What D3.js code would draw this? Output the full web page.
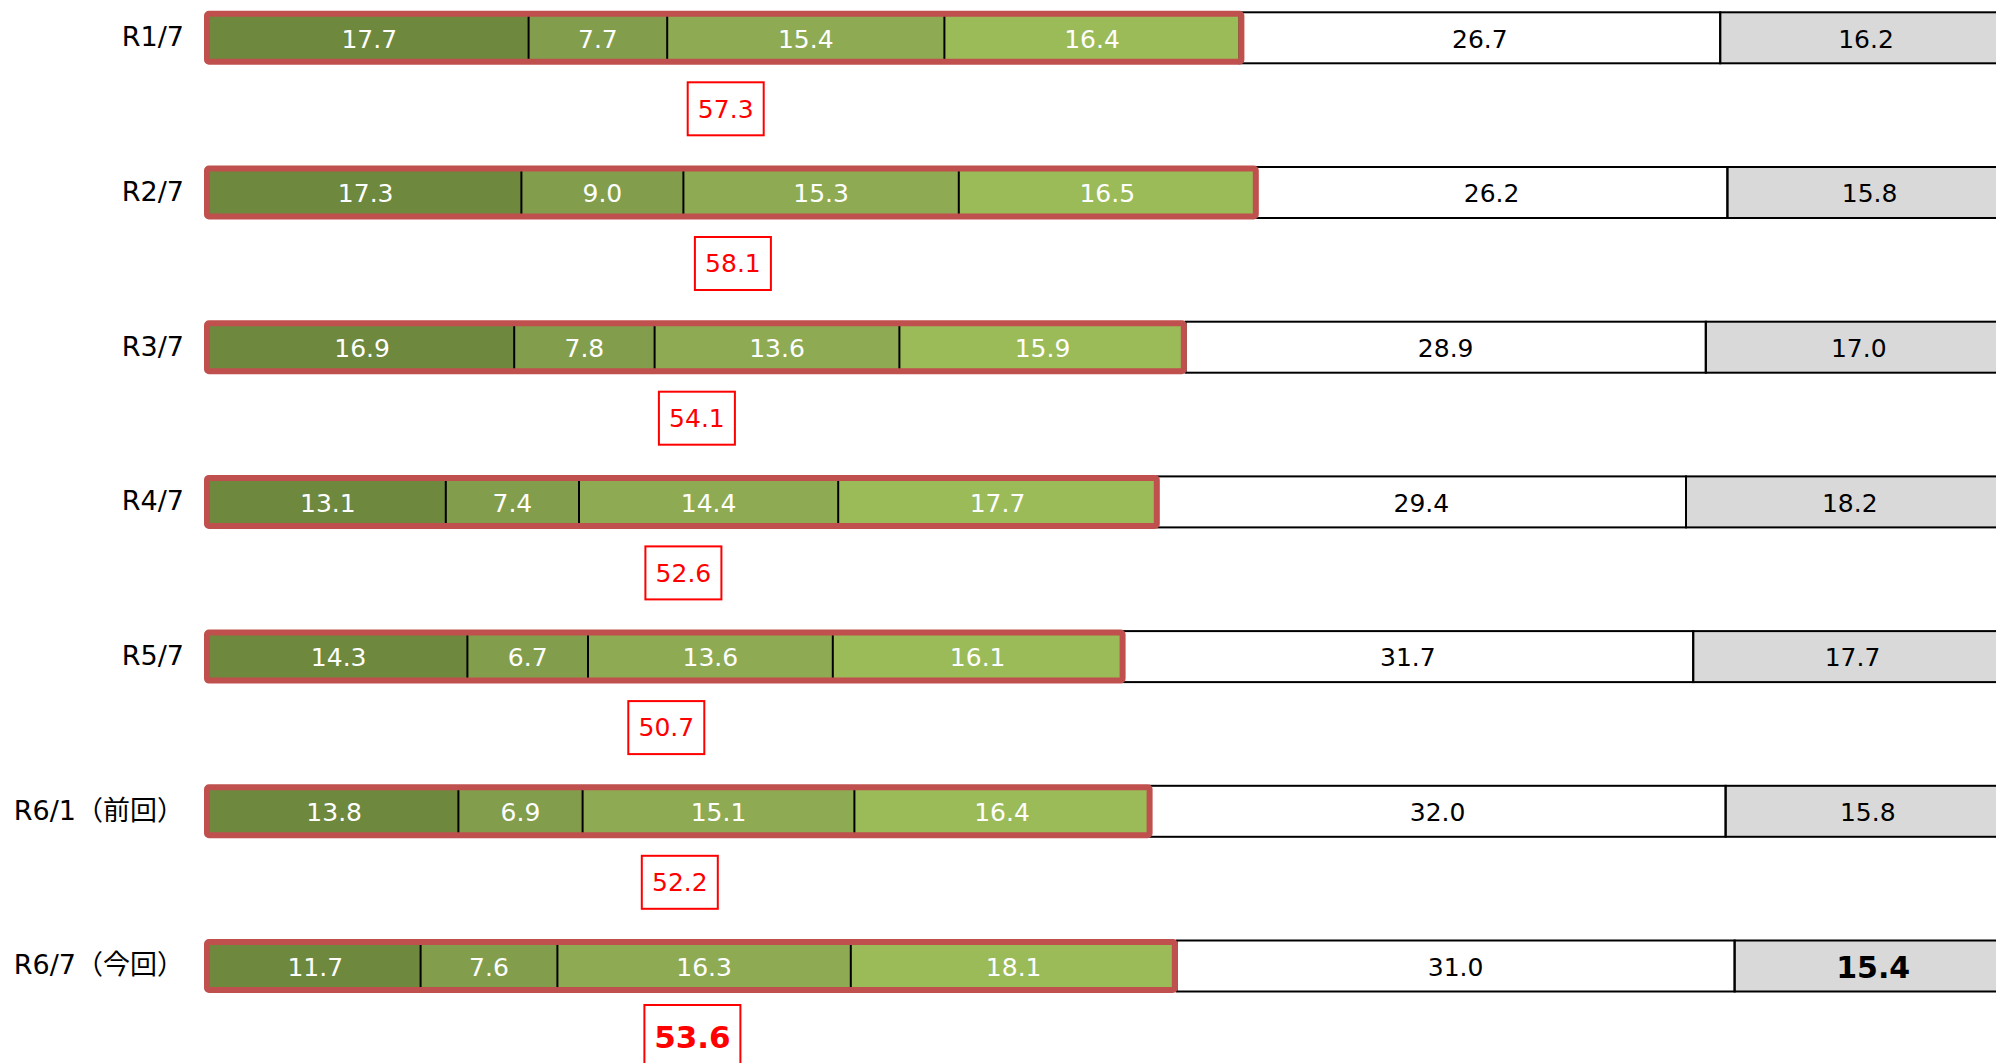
<!DOCTYPE html>
<html lang="ja">
<head>
<meta charset="utf-8">
<script src="https://cdn.jsdelivr.net/npm/d3@7"></script>
<style>
  html, body { margin: 0; padding: 0; background: #ffffff; overflow: hidden; }
  svg { display: block; }
  text { font-family: "DejaVu Sans", "Noto Sans CJK JP", sans-serif; }
</style>
</head>
<body>
<svg id="chart" width="1996" height="1063"></svg>
<script>
// Survey periods (one row each)
const categories = ["R1/7", "R2/7", "R3/7", "R4/7", "R5/7", "R6/1（前回）", "R6/7（今回）"];

// Share of answers (%) per category, left to right
const seriesA = [17.7, 17.3, 16.9, 13.1, 14.3, 13.8, 11.7];
const seriesB = [7.7, 9.0, 7.8, 7.4, 6.7, 6.9, 7.6];
const seriesC = [15.4, 15.3, 13.6, 14.4, 13.6, 15.1, 16.3];
const seriesD = [16.4, 16.5, 15.9, 17.7, 16.1, 16.4, 18.1];
const seriesE = [26.7, 26.2, 28.9, 29.4, 31.7, 32.0, 31.0];
const seriesF = [16.2, 15.8, 17.0, 18.2, 17.7, 15.8, 15.4];

// Combined share of the four green groups
const greenTotals = [57.3, 58.1, 54.1, 52.6, 50.7, 52.2, 53.6];

const seriesList = [seriesA, seriesB, seriesC, seriesD, seriesE, seriesF];
const fills = ["#6e883e", "#829e4c", "#8eab54", "#9bbb59", "#ffffff", "#d9d9d9"];
const textFills = ["#ffffff", "#ffffff", "#ffffff", "#ffffff", "#000000", "#000000"];
const greenCount = 4;
const latest = categories.length - 1;

const svg = d3.select("#chart");

const x = d3.scaleLinear().domain([0, 100]).range([210, 2010]);
const yc = d3.scalePoint().domain(categories).range([37.8, 966]);
const barH = 51;

// Stack the six series per row
const rows = categories.map((cat, i) => {
  let acc = 0;
  const segs = seriesList.map((s, k) => {
    const seg = { k, v: s[i], x0: acc, x1: acc + s[i] };
    acc += s[i];
    return seg;
  });
  return { cat, i, segs, total: greenTotals[i] };
});

const row = svg.selectAll("g.row").data(rows).join("g")
  .attr("class", "row")
  .attr("transform", d => `translate(0,${yc(d.cat) - barH / 2})`);

// Category labels
row.append("text")
  .attr("x", 184)
  .attr("y", barH / 2 - 1)
  .attr("dy", "0.35em")
  .attr("text-anchor", "end")
  .attr("font-size", 27)
  .attr("fill", "#000")
  .text(d => d.cat);

// Segment fills
row.selectAll("rect.seg").data(d => d.segs).join("rect")
  .attr("class", "seg")
  .attr("x", s => x(s.x0))
  .attr("y", 0)
  .attr("width", s => x(s.x1) - x(s.x0))
  .attr("height", barH)
  .attr("fill", s => fills[s.k]);

// Outlines of the light (non-green) segments
row.selectAll("rect.outline").data(d => d.segs.filter(s => s.k >= greenCount)).join("rect")
  .attr("class", "outline")
  .attr("x", s => x(s.x0))
  .attr("y", 0)
  .attr("width", s => x(s.x1) - x(s.x0))
  .attr("height", barH)
  .attr("fill", "none")
  .attr("stroke", "#000")
  .attr("stroke-width", 2);

// Thin dividers between the green segments
row.selectAll("line.div").data(d => d.segs.filter(s => s.k > 0 && s.k < greenCount)).join("line")
  .attr("class", "div")
  .attr("x1", s => x(s.x0))
  .attr("x2", s => x(s.x0))
  .attr("y1", 3)
  .attr("y2", barH - 3)
  .attr("stroke", "#000")
  .attr("stroke-width", 2);

// Red frame around the green groups
row.append("rect")
  .attr("x", x(0) - 3)
  .attr("y", 1.5)
  .attr("width", d => x(d.total) - x(0) + 3)
  .attr("height", barH - 3)
  .attr("rx", 2)
  .attr("fill", "none")
  .attr("stroke", "#c0504d")
  .attr("stroke-width", 6);

// Segment value labels
row.selectAll("text.val").data(d => d.segs.map(s => ({ ...s, i: d.i }))).join("text")
  .attr("class", "val")
  .attr("x", s => (x(s.x0) + x(s.x1)) / 2)
  .attr("y", barH / 2 + 1)
  .attr("dy", "0.35em")
  .attr("text-anchor", "middle")
  .attr("font-size", s => (s.i === latest && s.k === 5) ? 30 : 25)
  .attr("font-weight", s => (s.i === latest && s.k === 5) ? "bold" : "normal")
  .attr("fill", s => textFills[s.k])
  .text(s => s.v.toFixed(1));

// Boxed totals of the green groups, centred under the green span
const box = row.append("g")
  .attr("transform", d => `translate(${x(d.total / 2)},${barH / 2 + 71})`);

box.append("rect")
  .attr("x", d => d.i === latest ? -48 : -38)
  .attr("y", d => d.i === latest ? -32 : -26.5)
  .attr("width", d => d.i === latest ? 96 : 76)
  .attr("height", d => d.i === latest ? 64 : 53)
  .attr("fill", "#fff")
  .attr("stroke", "#ff0000")
  .attr("stroke-width", 2);

box.append("text")
  .attr("text-anchor", "middle")
  .attr("dy", "0.35em")
  .attr("font-size", d => d.i === latest ? 31 : 25)
  .attr("font-weight", d => d.i === latest ? "bold" : "normal")
  .attr("fill", "#ff0000")
  .text(d => d.total.toFixed(1));
</script>
</body>
</html>
